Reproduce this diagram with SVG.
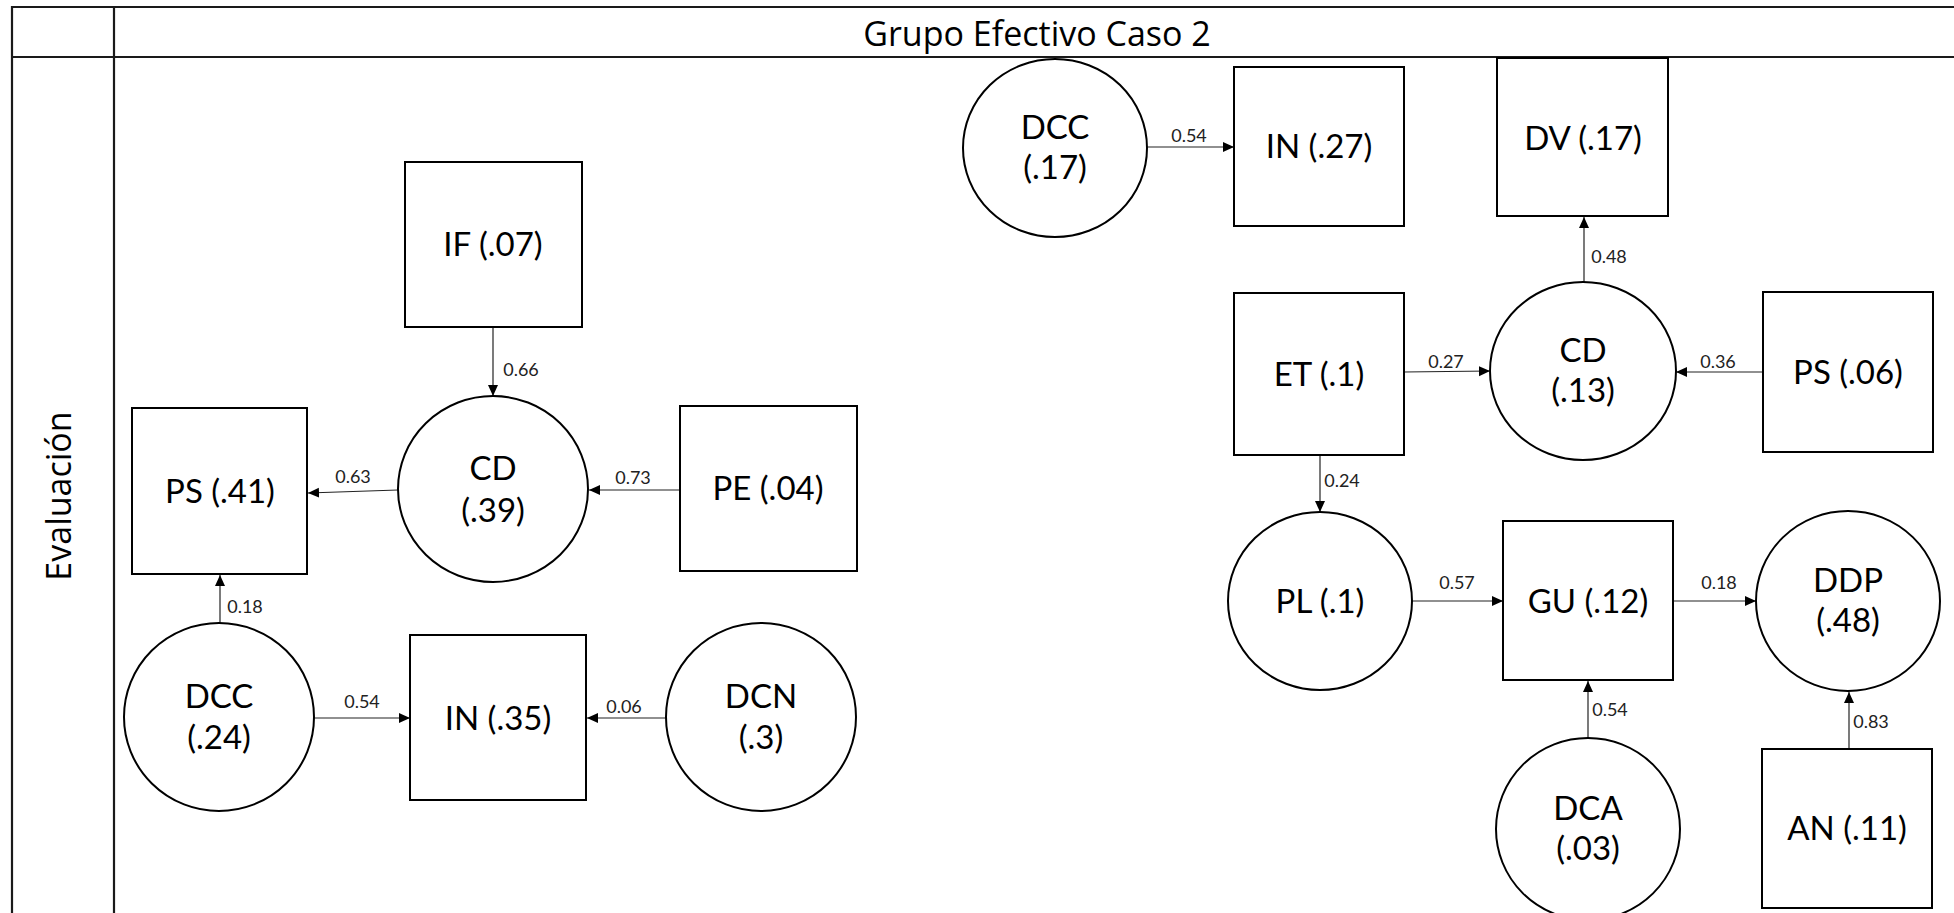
<svg xmlns="http://www.w3.org/2000/svg" width="1954" height="913" viewBox="0 0 1954 913">
  <style>
    .grid { stroke: #1a1a1a; stroke-width: 2.2; fill: none; }
    .node rect, .node ellipse { fill: #ffffff; stroke: #000000; stroke-width: 2; }
    .lbl { font-family: Lato, "Open Sans", sans-serif; font-size: 33px; fill: #000000; text-anchor: middle; }
    .head { font-family: "Open Sans", sans-serif; font-size: 34px; fill: #000000; text-anchor: middle; }
    .edge { stroke: #222222; stroke-width: 1.2; fill: none; marker-end: url(#arrow); }
    .w { font-family: Lato, "Open Sans", sans-serif; font-size: 18px; fill: #222222; text-anchor: middle; }
  </style>
  <defs>
    <marker id="arrow" markerUnits="userSpaceOnUse" markerWidth="12" markerHeight="12" refX="11" refY="5" orient="auto">
      <path d="M0,0 L11,5 L0,10 Z" fill="#000000"/>
    </marker>
  </defs>

  <rect width="1954" height="913" fill="#ffffff"/>

  <!-- table frame -->
  <g id="table">
    <line class="grid" x1="12" y1="7" x2="1954" y2="7"/>
    <line class="grid" x1="12" y1="57" x2="1954" y2="57"/>
    <line class="grid" x1="12" y1="6" x2="12" y2="913"/>
    <line class="grid" x1="114" y1="6" x2="114" y2="913"/>
    <text class="head" x="1037" y="46">Grupo Efectivo Caso 2</text>
    <text class="head" transform="translate(71,496) rotate(-90)" x="0" y="0">Evaluación</text>
  </g>

  <!-- connectors -->
  <g id="connectors">
    <line class="edge" x1="493" y1="327" x2="493" y2="396"/>
    <line class="edge" x1="398" y1="490" x2="308" y2="493"/>
    <line class="edge" x1="680" y1="490" x2="589" y2="490"/>
    <line class="edge" x1="220" y1="623" x2="220" y2="575"/>
    <line class="edge" x1="314" y1="718" x2="410" y2="718"/>
    <line class="edge" x1="666" y1="718" x2="587" y2="718"/>

    <line class="edge" x1="1147" y1="147" x2="1234" y2="147"/>
    <line class="edge" x1="1584" y1="282" x2="1584" y2="217"/>
    <line class="edge" x1="1404" y1="372" x2="1490" y2="371"/>
    <line class="edge" x1="1763" y1="372" x2="1676" y2="372"/>
    <line class="edge" x1="1320" y1="455" x2="1320" y2="512"/>
    <line class="edge" x1="1412" y1="601" x2="1503" y2="601"/>
    <line class="edge" x1="1673" y1="601" x2="1756" y2="601"/>
    <line class="edge" x1="1588" y1="738" x2="1588" y2="681"/>
    <line class="edge" x1="1849" y1="749" x2="1849" y2="692"/>

    <text class="w" x="521" y="376">0.66</text>
    <text class="w" x="353" y="483">0.63</text>
    <text class="w" x="633" y="484">0.73</text>
    <text class="w" x="245" y="613">0.18</text>
    <text class="w" x="362" y="708">0.54</text>
    <text class="w" x="624" y="713">0.06</text>

    <text class="w" x="1189" y="142">0.54</text>
    <text class="w" x="1609" y="263">0.48</text>
    <text class="w" x="1446" y="368">0.27</text>
    <text class="w" x="1718" y="368">0.36</text>
    <text class="w" x="1342" y="487">0.24</text>
    <text class="w" x="1457" y="589">0.57</text>
    <text class="w" x="1719" y="589">0.18</text>
    <text class="w" x="1610" y="716">0.54</text>
    <text class="w" x="1871" y="728">0.83</text>
  </g>

  <!-- left model -->
  <g id="n-if" class="node">
    <rect x="405" y="162" width="177" height="165"/>
    <text class="lbl" x="493" y="256">IF (.07)</text>
  </g>
  <g id="n-cd-l" class="node">
    <ellipse cx="493" cy="489" rx="95" ry="93"/>
    <text class="lbl" x="493" y="480">CD</text>
    <text class="lbl" x="493" y="522">(.39)</text>
  </g>
  <g id="n-ps-l" class="node">
    <rect x="132" y="408" width="175" height="166"/>
    <text class="lbl" x="220" y="503">PS (.41)</text>
  </g>
  <g id="n-pe" class="node">
    <rect x="680" y="406" width="177" height="165"/>
    <text class="lbl" x="768" y="500">PE (.04)</text>
  </g>
  <g id="n-dcc-l" class="node">
    <ellipse cx="219" cy="717" rx="95" ry="94"/>
    <text class="lbl" x="219" y="708">DCC</text>
    <text class="lbl" x="219" y="749">(.24)</text>
  </g>
  <g id="n-in-l" class="node">
    <rect x="410" y="635" width="176" height="165"/>
    <text class="lbl" x="498" y="730">IN (.35)</text>
  </g>
  <g id="n-dcn" class="node">
    <ellipse cx="761" cy="717" rx="95" ry="94"/>
    <text class="lbl" x="761" y="708">DCN</text>
    <text class="lbl" x="761" y="749">(.3)</text>
  </g>

  <!-- right model -->
  <g id="n-dcc-r" class="node">
    <ellipse cx="1055" cy="148" rx="92" ry="89"/>
    <text class="lbl" x="1055" y="139">DCC</text>
    <text class="lbl" x="1055" y="179">(.17)</text>
  </g>
  <g id="n-in-r" class="node">
    <rect x="1234" y="67" width="170" height="159"/>
    <text class="lbl" x="1319" y="158">IN (.27)</text>
  </g>
  <g id="n-dv" class="node">
    <rect x="1497" y="58" width="171" height="158"/>
    <text class="lbl" x="1583" y="150">DV (.17)</text>
  </g>
  <g id="n-et" class="node">
    <rect x="1234" y="293" width="170" height="162"/>
    <text class="lbl" x="1319" y="386">ET (.1)</text>
  </g>
  <g id="n-cd-r" class="node">
    <ellipse cx="1583" cy="371" rx="93" ry="89"/>
    <text class="lbl" x="1583" y="362">CD</text>
    <text class="lbl" x="1583" y="402">(.13)</text>
  </g>
  <g id="n-ps-r" class="node">
    <rect x="1763" y="292" width="170" height="160"/>
    <text class="lbl" x="1848" y="384">PS (.06)</text>
  </g>
  <g id="n-pl" class="node">
    <ellipse cx="1320" cy="601" rx="92" ry="89"/>
    <text class="lbl" x="1320" y="613">PL (.1)</text>
  </g>
  <g id="n-gu" class="node">
    <rect x="1503" y="521" width="170" height="159"/>
    <text class="lbl" x="1588" y="613">GU (.12)</text>
  </g>
  <g id="n-ddp" class="node">
    <ellipse cx="1848" cy="601" rx="92" ry="90"/>
    <text class="lbl" x="1848" y="592">DDP</text>
    <text class="lbl" x="1848" y="632">(.48)</text>
  </g>
  <g id="n-dca" class="node">
    <ellipse cx="1588" cy="829" rx="92" ry="91"/>
    <text class="lbl" x="1588" y="820">DCA</text>
    <text class="lbl" x="1588" y="860">(.03)</text>
  </g>
  <g id="n-an" class="node">
    <rect x="1762" y="749" width="170" height="159"/>
    <text class="lbl" x="1847" y="840">AN (.11)</text>
  </g>
</svg>
